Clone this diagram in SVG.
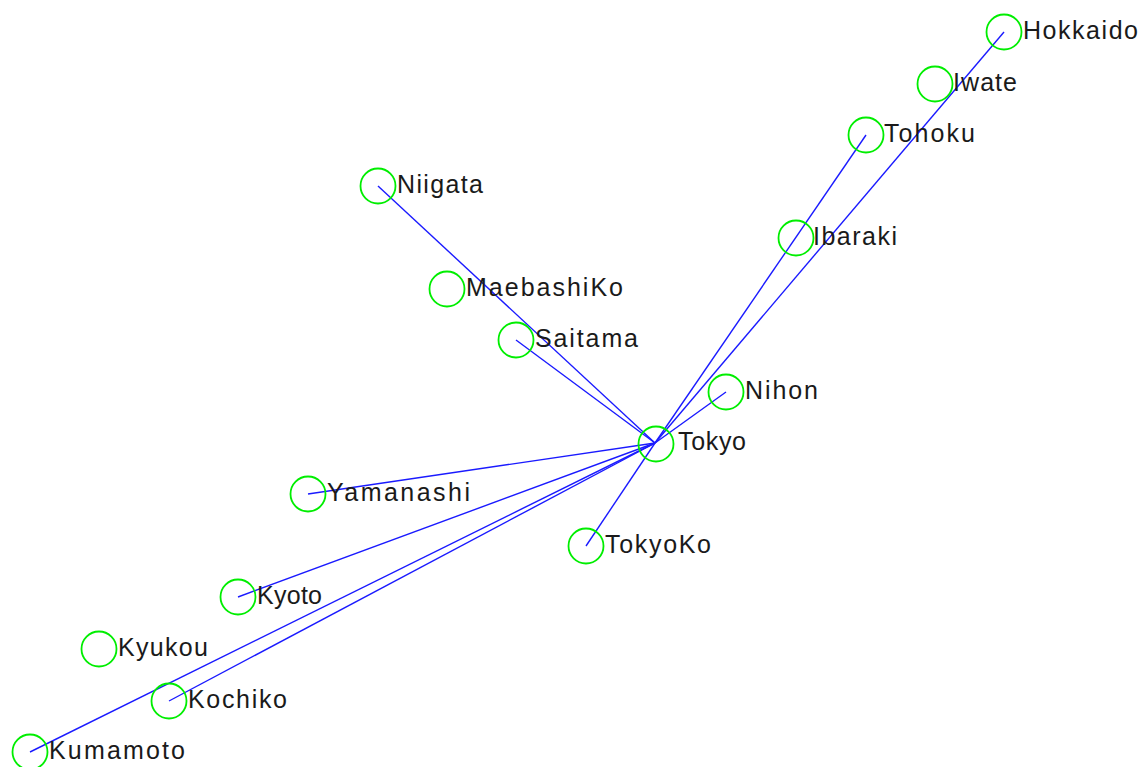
<svg xmlns="http://www.w3.org/2000/svg" width="1143" height="767" viewBox="0 0 1143 767">
  <style>
    .node circle { fill: none; stroke: #00ee00; stroke-width: 1.8; }
    .node text { font-family: "Liberation Sans", Arial, sans-serif; font-size: 25px; fill: #1a1a1a; }
    #edges line { stroke: #1a1aff; stroke-width: 1.4; }
  </style>
  <rect width="1143" height="767" fill="#ffffff"/>

  <!-- connectors: every link runs from the Tokyo hub -->
  <g id="edges">
    <line x1="655" y1="443" x2="1004" y2="32"/>
    <line x1="655" y1="443" x2="866" y2="135"/>
    <line x1="655" y1="443" x2="378" y2="186"/>
    <line x1="655" y1="443" x2="516" y2="340"/>
    <line x1="655" y1="443" x2="726" y2="392"/>
    <line x1="655" y1="443" x2="308" y2="494"/>
    <line x1="655" y1="443" x2="586" y2="546"/>
    <line x1="655" y1="443" x2="238" y2="597"/>
    <line x1="655" y1="443" x2="169" y2="701"/>
    <line x1="655" y1="443" x2="30" y2="752"/>
  </g>

  <g id="node-hokkaido" class="node"><circle cx="1004" cy="32" r="17.5"/><text x="1023" y="39" textLength="115" lengthAdjust="spacing">Hokkaido</text></g>
  <g id="node-iwate" class="node"><circle cx="935" cy="84" r="17.5"/><text x="953" y="91" textLength="64" lengthAdjust="spacing">Iwate</text></g>
  <g id="node-tohoku" class="node"><circle cx="866" cy="135" r="17.5"/><text x="884" y="142" textLength="91" lengthAdjust="spacing">Tohoku</text></g>
  <g id="node-niigata" class="node"><circle cx="378" cy="186" r="17.5"/><text x="397" y="193" textLength="86" lengthAdjust="spacing">Niigata</text></g>
  <g id="node-ibaraki" class="node"><circle cx="796" cy="238" r="17.5"/><text x="813" y="245" textLength="84" lengthAdjust="spacing">Ibaraki</text></g>
  <g id="node-maebashiko" class="node"><circle cx="447" cy="289" r="17.5"/><text x="466" y="296" textLength="157" lengthAdjust="spacing">MaebashiKo</text></g>
  <g id="node-saitama" class="node"><circle cx="516" cy="340" r="17.5"/><text x="535" y="347" textLength="103" lengthAdjust="spacing">Saitama</text></g>
  <g id="node-nihon" class="node"><circle cx="726" cy="392" r="17.5"/><text x="745" y="399" textLength="73" lengthAdjust="spacing">Nihon</text></g>
  <g id="node-tokyo" class="node"><circle cx="656" cy="444" r="17.5"/><text x="678" y="450" textLength="68" lengthAdjust="spacing">Tokyo</text></g>
  <g id="node-yamanashi" class="node"><circle cx="308" cy="494" r="17.5"/><text x="327" y="501" textLength="143" lengthAdjust="spacing">Yamanashi</text></g>
  <g id="node-tokyoko" class="node"><circle cx="586" cy="546" r="17.5"/><text x="605" y="553" textLength="106" lengthAdjust="spacing">TokyoKo</text></g>
  <g id="node-kyoto" class="node"><circle cx="238" cy="597" r="17.5"/><text x="257" y="604" textLength="65" lengthAdjust="spacing">Kyoto</text></g>
  <g id="node-kyukou" class="node"><circle cx="99" cy="649" r="17.5"/><text x="118" y="656" textLength="90" lengthAdjust="spacing">Kyukou</text></g>
  <g id="node-kochiko" class="node"><circle cx="169" cy="701" r="17.5"/><text x="188" y="708" textLength="99" lengthAdjust="spacing">Kochiko</text></g>
  <g id="node-kumamoto" class="node"><circle cx="30" cy="752" r="17.5"/><text x="49" y="759" textLength="136" lengthAdjust="spacing">Kumamoto</text></g>
</svg>
